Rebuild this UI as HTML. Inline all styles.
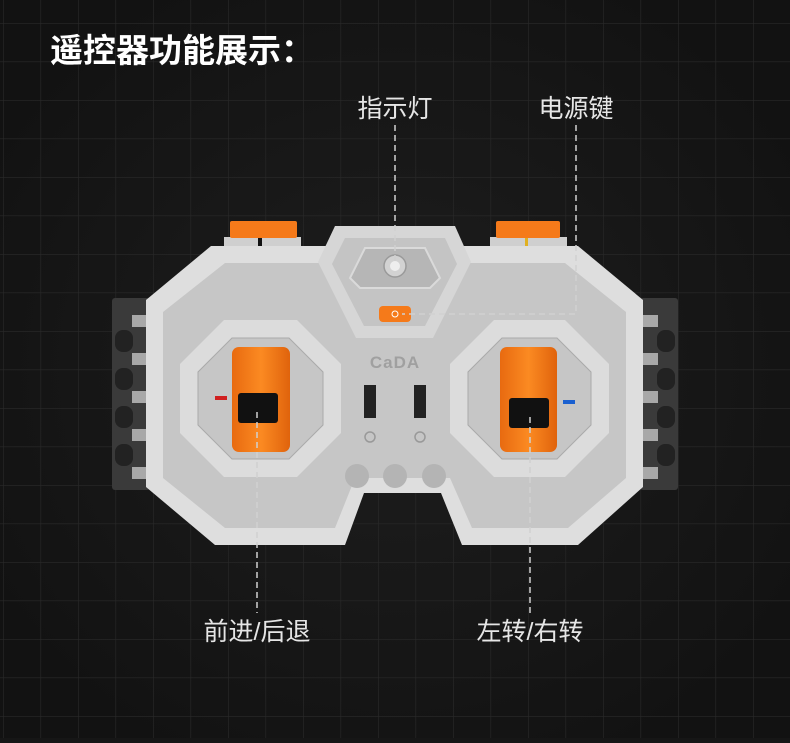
<!DOCTYPE html>
<html><head><meta charset="utf-8"><style>
html,body{margin:0;padding:0;background:#161616;}
body{width:790px;height:738px;overflow:hidden;}
text{font-family:"Liberation Sans","Noto Sans CJK SC",sans-serif;}
</style></head><body>
<svg width="790" height="738" viewBox="0 0 790 738" xmlns="http://www.w3.org/2000/svg">
<defs>
<pattern id="g" x="3" y="23" width="37.5" height="38.5" patternUnits="userSpaceOnUse">
<path d="M0 0H37.5M0 0V38.5" stroke="#292929" stroke-width="1.2" fill="none"/>
</pattern>
<radialGradient id="vg" cx="50%" cy="50%" r="60%"><stop offset="0" stop-color="#1e1e1e"/><stop offset="1" stop-color="#121212"/></radialGradient>
<linearGradient id="or" x1="0" y1="0" x2="1" y2="0"><stop offset="0" stop-color="#e86a10"/><stop offset="0.5" stop-color="#fb8a22"/><stop offset="1" stop-color="#e0630c"/></linearGradient>
</defs>
<rect width="790" height="738" fill="url(#vg)"/>
<rect width="790" height="738" fill="url(#g)"/>

<g fill="#3a3a3a">
<rect x="112" y="298" width="38" height="192" rx="3"/>
<rect x="640" y="298" width="38" height="192" rx="3"/>
</g>
<g fill="#222">
<rect x="115" y="330" width="18" height="22" rx="8"/><rect x="115" y="368" width="18" height="22" rx="8"/><rect x="115" y="406" width="18" height="22" rx="8"/><rect x="115" y="444" width="18" height="22" rx="8"/>
<rect x="657" y="330" width="18" height="22" rx="8"/><rect x="657" y="368" width="18" height="22" rx="8"/><rect x="657" y="406" width="18" height="22" rx="8"/><rect x="657" y="444" width="18" height="22" rx="8"/>
</g>
<g fill="#a8a8a8">
<rect x="132" y="315" width="16" height="12"/><rect x="132" y="353" width="16" height="12"/><rect x="132" y="391" width="16" height="12"/><rect x="132" y="429" width="16" height="12"/><rect x="132" y="467" width="16" height="12"/>
<rect x="642" y="315" width="16" height="12"/><rect x="642" y="353" width="16" height="12"/><rect x="642" y="391" width="16" height="12"/><rect x="642" y="429" width="16" height="12"/><rect x="642" y="467" width="16" height="12"/>
</g>

<rect x="224" y="237" width="77" height="14" fill="#cfcfcf"/>
<rect x="230" y="221" width="67" height="17" rx="2" fill="#f57a1a"/>
<rect x="258" y="238" width="4" height="11" fill="#111"/>
<rect x="490" y="237" width="77" height="14" fill="#cfcfcf"/>
<rect x="496" y="221" width="64" height="17" rx="2" fill="#f57a1a"/>
<rect x="525" y="238" width="3" height="11" fill="#e0b020"/>

<path d="M211 246 L578 246 L643 300 L643 487 L578 545 L462 545 L441 493 L364 493 L345 545 L215 545 L146 487 L146 300 Z" fill="#dedede"/>
<path d="M225 263 L565 263 L626 312 L626 478 L568 528 L472 528 L450 478 L355 478 L335 528 L225 528 L163 478 L163 312 Z" fill="#c6c6c6"/>
<path d="M335 226 L455 226 L471 262 L433 338 L356 338 L318 262 Z" fill="#d6d6d6"/>
<path d="M345 238 L445 238 L457 264 L425 326 L364 326 L332 264 Z" fill="#c4c4c4"/>
<path d="M365 248 L425 248 L440 278 L430 288 L360 288 L350 278 Z" fill="#b6b6b6" stroke="#dadada" stroke-width="2"/>
<circle cx="395" cy="266" r="11" fill="#d2d2d2" stroke="#9a9a9a" stroke-width="1.5"/>
<circle cx="395" cy="266" r="5" fill="#eee"/>
<rect x="379" y="306" width="32" height="16" rx="4" fill="#f57a1a"/>
<circle cx="395" cy="314" r="3" fill="none" stroke="#fff" stroke-width="1"/>

<path d="M224 320 L297 320 L341 364 L341 433 L297 477 L224 477 L180 433 L180 364 Z" fill="#dcdcdc"/>
<path d="M232 338 L289 338 L323 372 L323 425 L289 459 L232 459 L198 425 L198 372 Z" fill="#c6c6c6" stroke="#aaa" stroke-width="1"/>
<path d="M494 320 L565 320 L609 364 L609 433 L565 477 L494 477 L450 433 L450 364 Z" fill="#dcdcdc"/>
<path d="M502 338 L557 338 L591 372 L591 425 L557 459 L502 459 L468 425 L468 372 Z" fill="#c6c6c6" stroke="#aaa" stroke-width="1"/>
<rect x="232" y="347" width="58" height="105" rx="7" fill="url(#or)"/>
<rect x="500" y="347" width="57" height="105" rx="7" fill="url(#or)"/>
<rect x="238" y="393" width="40" height="30" rx="3" fill="#111"/>
<rect x="509" y="398" width="40" height="30" rx="3" fill="#111"/>
<rect x="215" y="396" width="12" height="4" fill="#d02020"/>
<rect x="563" y="400" width="12" height="4" fill="#1a60d0"/>

<text x="395" y="368" font-size="17" fill="#a0a0a0" text-anchor="middle" font-weight="bold" letter-spacing="1">CaDA</text>
<rect x="364" y="385" width="12" height="33" fill="#222"/>
<rect x="414" y="385" width="12" height="33" fill="#222"/>
<circle cx="370" cy="437" r="5" fill="none" stroke="#999" stroke-width="1.5"/>
<circle cx="420" cy="437" r="5" fill="none" stroke="#999" stroke-width="1.5"/>
<circle cx="357" cy="476" r="12" fill="#b4b4b4"/><circle cx="395" cy="476" r="12" fill="#b4b4b4"/><circle cx="434" cy="476" r="12" fill="#b4b4b4"/>

<g stroke="#d0d0d0" stroke-width="1.5" stroke-dasharray="6,4" fill="none">
<path d="M395 125 V262"/>
<path d="M576 125 V314 H402"/>
<path d="M257 412 V613"/>
<path d="M530 417 V613"/>
</g>

<text x="50" y="62" font-size="33" font-weight="bold" fill="#fff">遥控器功能展示：</text>
<text x="395" y="117" font-size="25" fill="#e6e6e6" text-anchor="middle">指示灯</text>
<text x="576" y="117" font-size="25" fill="#e6e6e6" text-anchor="middle">电源键</text>
<text x="257" y="640" font-size="25" fill="#e6e6e6" text-anchor="middle">前进/后退</text>
<text x="530" y="640" font-size="25" fill="#e6e6e6" text-anchor="middle">左转/右转</text>
</svg>
</body></html>
